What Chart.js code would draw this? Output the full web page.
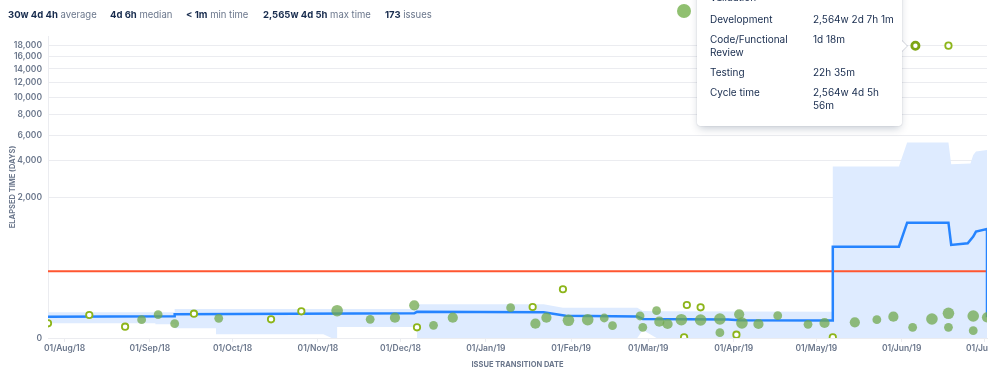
<!DOCTYPE html>
<html>
<head>
<meta charset="utf-8">
<script src="https://cdn.jsdelivr.net/npm/chart.js@4.4.0/dist/chart.umd.min.js"></script>
<style>
  html, body { margin: 0; padding: 0; background: #fff; }
  body { width: 999px; height: 376px; position: relative; overflow: hidden; font-family: Inter, "Noto Sans", sans-serif; }
  #wrap { position: absolute; left: 0; top: 0; width: 988px; height: 376px; }
  .stat { position: absolute; top: 8px; font-size: 9.5px; line-height: 14px; color: #6b778c; white-space: nowrap; }
  .stat b { color: #172b4d; font-weight: 700; }
  #blob { position: absolute; left: 677px; top: 4px; width: 14px; height: 14px; border-radius: 50%; background: #90c070; }
  #tip { position: absolute; left: 697px; top: -14px; width: 205px; height: 140px; background: #fff; border-radius: 3px;
         box-shadow: 0 4px 8px -2px rgba(9,30,66,.25), 0 0 1px rgba(9,30,66,.31); font-size: 10px; line-height: 13px; color: #172b4d; }
  #tip .l, #tip .v { position: absolute; white-space: nowrap; }
  #tip .l { left: 13px; }
  #tip .v { left: 116px; }
  #arrow { position: absolute; left: 901px; top: 40px; width: 0; height: 0; border-top: 6px solid transparent; border-bottom: 6px solid transparent;
           border-left: 6px solid #fff; filter: drop-shadow(1px 0 0.5px rgba(9,30,66,.18)); }
</style>
</head>
<body>
<div id="wrap"><canvas id="c" width="988" height="376"></canvas></div>
<div id="stats"></div>
<div id="blob"></div>
<div id="tip"></div>
<div id="arrow"></div>
<script>
// ---------- data ----------
const statValues = ['30w 4d 4h', '4d 6h', '< 1m', '2,565w 4d 5h', '173'];
const statLabels = ['average', 'median', 'min time', 'max time', 'issues'];

const tipLabels = ['Validation', 'Development', 'Code/Functional<br>Review', 'Testing', 'Cycle time'];
const tipValues = ['', '2,564w 2d 7h 1m', '1d 18m', '22h 35m', '2,564w 4d 5h<br>56m'];

const X_MIN = '2018-07-26';
const X_MAX = '2019-07-02';
const X_TICKS = ['2018-08-01','2018-09-01','2018-10-01','2018-11-01','2018-12-01','2019-01-01',
                 '2019-02-01','2019-03-01','2019-04-01','2019-05-01','2019-06-01','2019-07-01'];
const Y_MAX = 19800;
const Y_TICKS = [0, 2000, 4000, 6000, 8000, 10000, 12000, 14000, 16000, 18000];
const MEAN_DAYS = 214.17;

// clusters of issues (filled bubbles)
const clusterDates = ['2018-08-29','2018-09-04','2018-09-10','2018-09-26','2018-11-08','2018-11-20','2018-11-29',
  '2018-12-06','2018-12-13','2018-12-20','2019-01-10','2019-01-19','2019-01-23','2019-01-31','2019-02-07',
  '2019-02-13','2019-02-16','2019-02-26','2019-02-27','2019-03-04','2019-03-05','2019-03-08','2019-03-13',
  '2019-03-20','2019-03-27','2019-03-27','2019-04-03','2019-04-04','2019-04-10','2019-04-17','2019-04-28',
  '2019-05-04','2019-05-15','2019-05-23','2019-05-29','2019-06-05','2019-06-12','2019-06-18','2019-06-18',
  '2019-06-27','2019-06-27','2019-07-02'];
const clusterDays = [4.41, 9.11, 2.11, 5.50, 14.65, 4.71, 6.02,
  25.18, 1.47, 6.02, 20.03, 2.11, 6.02, 3.99, 4.41,
  5.76, 1.34, 7.67, 0.88, 14.65, 3.12, 1.98, 4.41,
  4.20, 0.107, 4.94, 9.58, 2.43, 1.98, 7.98, 1.85,
  2.43, 2.79, 4.41, 6.96, 0.88, 4.94, 10.85, 0.88,
  7.67, 0.28, 6.39];
const clusterCounts = [2, 2, 2, 2, 4, 2, 3,
  3, 2, 3, 2, 3, 3, 4, 4,
  2, 2, 2, 2, 2, 3, 3, 4,
  4, 2, 4, 3, 4, 3, 2, 2,
  3, 3, 2, 3, 2, 4, 4, 2,
  4, 2, 3];

// single issues (hollow points)
const singleDates = ['2018-07-26','2018-08-10','2018-08-23','2018-09-17','2018-10-15','2018-10-26','2018-12-07',
  '2019-01-18','2019-01-29','2019-03-14','2019-03-15','2019-03-20','2019-04-02','2019-05-07','2019-06-18'];
const singleDays = [2.29, 8.76, 1.04, 10.33, 4.71, 13.70, 0.88,
  21.45, 83.2, 0.0002, 25.88, 20.83, 0.026, 0.0002, 17959.2];

// selected issue (tooltip)
const selectedDate = '2019-06-06';
const selectedDays = 17952.25;

// rolling average
const rollingDates = ['2018-07-26','2018-09-10','2018-09-10','2018-12-06','2018-12-07','2019-01-22','2019-01-30',
  '2019-02-25','2019-02-27','2019-03-30','2019-04-03','2019-05-07','2019-05-07','2019-05-31','2019-06-03',
  '2019-06-18','2019-06-19','2019-06-25','2019-06-27','2019-06-28','2019-07-02','2019-07-02'];
const rollingDays = [6.96, 7.36, 9.58, 10.85, 12.95, 12.22, 7.99,
  7.16, 4.94, 4.56, 3.99, 3.86, 548, 548, 1104,
  1104, 579, 611, 749, 865, 933, 6.39];

// standard deviation band
const bandDates = ['2018-07-26','2018-09-03','2018-09-03','2018-09-10','2018-09-10','2018-09-25','2018-09-25',
  '2018-11-03','2018-11-06','2018-11-08','2018-11-08','2018-12-07','2018-12-07','2019-01-22','2019-01-29',
  '2019-02-25','2019-02-27','2019-03-04','2019-05-07','2019-05-07','2019-05-31','2019-06-03','2019-06-18',
  '2019-06-19','2019-06-26','2019-06-27','2019-06-28','2019-07-02'];
const bandUpper = [12.22, 12.22, 12.22, 12.22, 17.56, 17.56, 17.56,
  17.56, 17.56, 17.56, 17.56, 17.56, 27.56, 27.56, 20.03,
  20.03, 14.17, 13.6, 13.1, 3620, 3620, 5364, 5364,
  3774, 3826, 4413, 4656, 4784];
const bandLower = [2.29, 2.29, 1.85, 1.85, 0.657, 0.657, 0.0365,
  0.0365, 0, 0, 0.958, 0.958, 0, 0, 0,
  0, 0.369, 0, 0, 0, 0, 0, 0,
  0, 0, 0, 0, 0];

// ---------- html parts ----------
const statLefts = [8, 110, 186, 263, 385];
document.getElementById('stats').innerHTML = statValues.map((v, i) =>
  `<div class="stat" style="left:${statLefts[i]}px"><b>${v.replace('<', '&lt;')}</b> ${statLabels[i]}</div>`).join('');
const tipTops = [4.5, 26.8, 46.8, 79.5, 99.5];
document.getElementById('tip').innerHTML = tipLabels.map((l, i) =>
  `<div class="l" style="top:${tipTops[i]}px">${l}</div><div class="v" style="top:${tipTops[i]}px">${tipValues[i]}</div>`).join('');

// ---------- cube-root scale ----------
class CubeRootScale extends Chart.LinearScale {
  determineDataLimits() { this.min = this.options.min; this.max = this.options.max; }
  buildTicks() { return Y_TICKS.map(v => ({ value: v })); }
  configure() {
    super.configure();
    this._cStart = Math.cbrt(this.min);
    this._cRange = Math.cbrt(this.max) - this._cStart;
  }
  getPixelForValue(v) {
    if (v === null || v === undefined || isNaN(v)) return NaN;
    return this.getPixelForDecimal((Math.cbrt(v) - this._cStart) / this._cRange);
  }
  getValueForPixel(p) {
    const d = this.getDecimalForPixel(p);
    return Math.pow(this._cStart + d * this._cRange, 3);
  }
}
CubeRootScale.id = 'cuberoot';
CubeRootScale.defaults = Chart.LinearScale.defaults;
Chart.register(CubeRootScale);

// ---------- helpers ----------
const ts = s => Date.parse(s + 'T00:00:00Z');
const MON = ['Jan','Feb','Mar','Apr','May','Jun','Jul','Aug','Sep','Oct','Nov','Dec'];
const fmtDate = v => { const d = new Date(v); return String(d.getUTCDate()).padStart(2, '0') + '/' + MON[d.getUTCMonth()] + '/' + String(d.getUTCFullYear()).slice(2); };
const pts = (dates, vals) => dates.map((d, i) => ({ x: ts(d), y: vals[i] }));
const radiusFor = c => 3 + 0.7 * c;

const FONT = 'Inter, "Noto Sans", sans-serif';
Chart.defaults.font.family = FONT;
const GRID = '#ebecf0';
const AXIS_TEXT = '#6b778c';

new Chart(document.getElementById('c'), {
  type: 'scatter',
  data: {
    datasets: [
      { // selected issue
        data: pts([selectedDate], [selectedDays]), order: 0,
        pointRadius: 3.6, pointBorderWidth: 2.8, pointBorderColor: '#7ea513', pointBackgroundColor: '#ffffff'
      },
      { // single issues
        data: pts(singleDates, singleDays), order: 1,
        pointRadius: 3.2, pointBorderWidth: 1.8, pointBorderColor: '#8db51a', pointBackgroundColor: '#ffffff'
      },
      { // clusters
        data: pts(clusterDates, clusterDays), order: 2,
        pointRadius: clusterCounts.map(radiusFor), pointBorderWidth: 0,
        pointBackgroundColor: 'rgba(112,168,78,0.75)'
      },
      { // rolling average
        type: 'line', data: pts(rollingDates, rollingDays), order: 3,
        borderColor: '#2684ff', borderWidth: 2.5, pointRadius: 0, tension: 0, fill: false
      },
      { // mean
        type: 'line', data: pts([X_MIN, X_MAX], [MEAN_DAYS, MEAN_DAYS]), order: 4,
        borderColor: '#ff5630', borderWidth: 2, pointRadius: 0, fill: false
      },
      { // band lower (cleared back to white)
        type: 'line', data: pts(bandDates, bandLower), order: 5,
        borderWidth: 0, pointRadius: 0, tension: 0, fill: 'origin', backgroundColor: '#ffffff'
      },
      { // band upper
        type: 'line', data: pts(bandDates, bandUpper), order: 6,
        borderWidth: 0, pointRadius: 0, tension: 0, fill: 'origin', backgroundColor: '#deebff'
      }
    ]
  },
  options: {
    responsive: false, animation: false, devicePixelRatio: 1,
    layout: { autoPadding: false, padding: { top: 36, right: 1, left: 0, bottom: 0 } },
    plugins: { legend: { display: false }, tooltip: { enabled: false } },
    events: [],
    scales: {
      x: {
        type: 'linear', min: ts(X_MIN), max: ts(X_MAX),
        afterBuildTicks: s => { s.ticks = X_TICKS.map(d => ({ value: ts(d) })); },
        afterFit: s => { s.height = 38; s.paddingLeft = 0; s.paddingRight = 0; },
        ticks: { callback: v => fmtDate(v), autoSkip: false, maxRotation: 0, padding: 1,
                 color: AXIS_TEXT, font: { size: 8.5, weight: 600 } },
        grid: { drawOnChartArea: false, drawTicks: true, tickLength: 4, color: GRID },
        border: { color: GRID },
        title: { display: true, text: 'ISSUE TRANSITION DATE', color: AXIS_TEXT,
                 font: { size: 7.5, weight: 700 }, padding: { top: 0, bottom: 6.5 } }
      },
      y: {
        type: 'cuberoot', position: 'left', min: 0, max: Y_MAX,
        afterFit: s => { s.width = 48; },
        ticks: { callback: v => v.toLocaleString('en-US'), padding: 6,
                 color: AXIS_TEXT, font: { size: 8.5, weight: 600 } },
        grid: { color: GRID, drawTicks: false },
        border: { color: GRID },
        title: { display: true, text: 'ELAPSED TIME (DAYS)', color: AXIS_TEXT,
                 font: { size: 7.5, weight: 700 }, padding: { top: 8.5, bottom: 0 } }
      }
    }
  }
});
</script>
</body>
</html>
